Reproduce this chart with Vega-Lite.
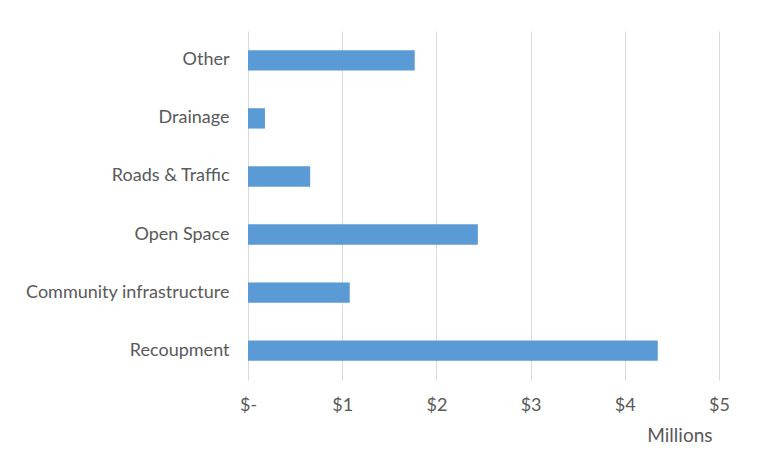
{
  "$schema": "https://vega.github.io/schema/vega-lite/v6.json",
  "autosize": {"type": "none"},
  "width": 471,
  "height": 349,
  "padding": {"left": 248, "top": 31, "right": 64, "bottom": 92},
  "background": "white",
  "data": {
    "values": [
      {"category": "Other", "value": 1.77},
      {"category": "Drainage", "value": 0.18},
      {"category": "Roads & Traffic", "value": 0.66},
      {"category": "Open Space", "value": 2.44},
      {"category": "Community infrastructure", "value": 1.08},
      {"category": "Recoupment", "value": 4.35}
    ]
  },
  "mark": {"type": "bar", "color": "#5B9BD5"},
  "encoding": {
    "y": {
      "field": "category",
      "type": "nominal",
      "sort": null,
      "scale": {"paddingInner": 0.65, "paddingOuter": 0.33},
      "axis": {
        "title": null,
        "domain": false,
        "ticks": false,
        "labelPadding": 19,
        "labelLimit": 400,
        "labelFont": "Lato",
        "labelFontSize": 18,
        "labelColor": "#595959"
      }
    },
    "x": {
      "field": "value",
      "type": "quantitative",
      "scale": {"domain": [0, 5]},
      "axis": {
        "values": [0, 1, 2, 3, 4, 5],
        "labelExpr": "datum.value == 0 ? '$-' : '$' + datum.value",
        "labelFlush": false,
        "title": "Millions",
        "titleFont": "Lato",
        "titleFontSize": 19,
        "titleFontWeight": "normal",
        "titleColor": "#595959",
        "titleAnchor": "end",
        "titleX": 464,
        "titleAlign": "right",
        "titlePadding": 12,
        "domain": false,
        "ticks": false,
        "labelPadding": 16,
        "labelFont": "Lato",
        "labelFontSize": 18,
        "labelColor": "#595959",
        "grid": true,
        "gridColor": "#D9D9D9"
      }
    }
  },
  "config": {"view": {"stroke": null}}
}
